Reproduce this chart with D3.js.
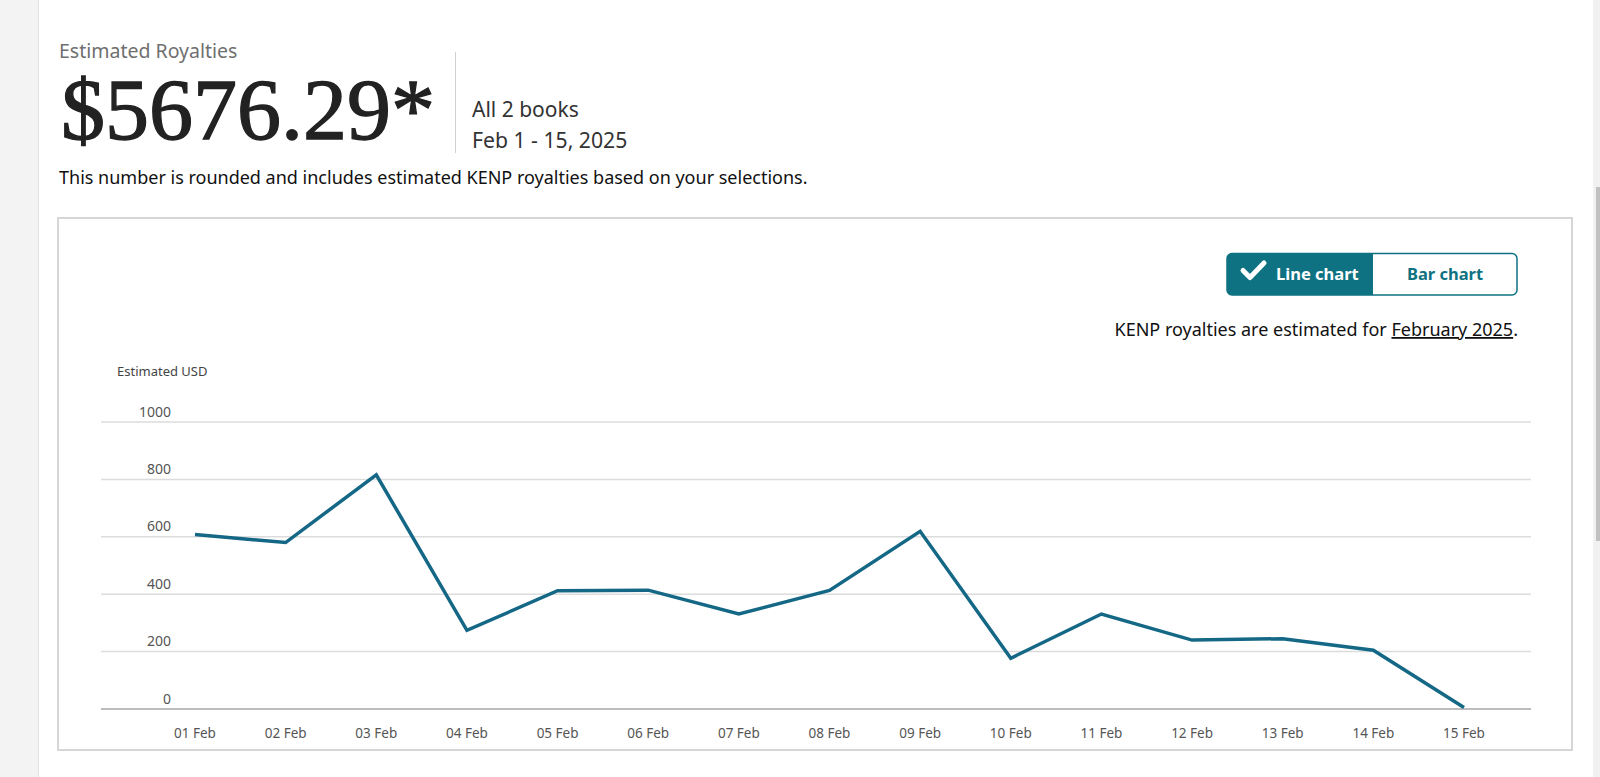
<!DOCTYPE html>
<html>
<head>
<meta charset="utf-8">
<script src="https://cdn.jsdelivr.net/npm/d3@7"></script>
<style>
  html, body { margin: 0; padding: 0; background: #fff; overflow: hidden; }
  svg { display: block; }
  text { font-family: "Noto Sans", "Open Sans", sans-serif; }
</style>
</head>
<body>
<svg id="chart" width="1600" height="777"></svg>
<script>
// ---- data ----
const categories = ["01 Feb","02 Feb","03 Feb","04 Feb","05 Feb","06 Feb","07 Feb","08 Feb","09 Feb","10 Feb","11 Feb","12 Feb","13 Feb","14 Feb","15 Feb"];
const royalties = [608, 580, 816, 274, 412, 414, 331, 413, 619, 177, 331, 240, 245, 205, 5];
const yTicks = [0, 200, 400, 600, 800, 1000];
const totalLabel = "$5676.29*";
const booksLabel = "All 2 books";
const rangeLabel = "Feb 1 - 15, 2025";

const svg = d3.select("#chart");

// page chrome
svg.append("rect").attr("x", 0).attr("y", 0).attr("width", 1600).attr("height", 777).attr("fill", "#fff");
svg.append("rect").attr("x", 0).attr("y", 0).attr("width", 38).attr("height", 777).attr("fill", "#f3f3f3");
svg.append("line").attr("x1", 38.5).attr("x2", 38.5).attr("y1", 0).attr("y2", 777).attr("stroke", "#e2e2e2");
svg.append("rect").attr("x", 1593).attr("y", 0).attr("width", 7).attr("height", 777).attr("fill", "#f1f1f1");
svg.append("rect").attr("x", 1596).attr("y", 187).attr("width", 4).attr("height", 354).attr("fill", "#c1c1c1");

// header
svg.append("text").attr("x", 59).attr("y", 58).attr("font-size", 19.5).attr("fill", "#6f6f6f").text("Estimated Royalties");
svg.append("text").attr("x", 61).attr("y", 139)
  .style("font-family", "'Liberation Serif', 'DejaVu Serif', serif")
  .attr("font-size", 87).attr("fill", "#222")
  .attr("stroke", "#222").attr("stroke-width", 1.3)
  .attr("textLength", 374).attr("lengthAdjust", "spacingAndGlyphs")
  .text(totalLabel);
svg.append("line").attr("x1", 455.5).attr("x2", 455.5).attr("y1", 52).attr("y2", 153).attr("stroke", "#d0d0d0");
svg.append("text").attr("x", 472).attr("y", 117).attr("font-size", 21).attr("fill", "#333").text(booksLabel);
svg.append("text").attr("x", 472).attr("y", 148).attr("font-size", 21.2).attr("fill", "#333").text(rangeLabel);
svg.append("text").attr("x", 59).attr("y", 184).attr("font-size", 18).attr("fill", "#111")
  .text("This number is rounded and includes estimated KENP royalties based on your selections.");

// chart box
svg.append("rect").attr("x", 58).attr("y", 218).attr("width", 1514).attr("height", 532)
  .attr("fill", "#fff").attr("stroke", "#d6d6d6").attr("stroke-width", 2);

// toggle
const teal = "#0e7282";
svg.append("rect").attr("x", 1227).attr("y", 253.5).attr("width", 290).attr("height", 41.5).attr("rx", 5)
  .attr("fill", "#fff").attr("stroke", teal).attr("stroke-width", 1.5);
svg.append("path")
  .attr("d", "M1373,253.5 H1232 a5,5 0 0 0 -5,5 V290 a5,5 0 0 0 5,5 H1373 Z")
  .attr("fill", teal);
svg.append("path")
  .attr("d", "M1243,270.5 L1250,277.5 L1264,263")
  .attr("fill", "none").attr("stroke", "#fff").attr("stroke-width", 5)
  .attr("stroke-linecap", "round").attr("stroke-linejoin", "round");
svg.append("text").attr("x", 1276).attr("y", 280).attr("font-size", 16.5).attr("font-weight", 700)
  .attr("fill", "#fff").text("Line chart");
svg.append("text").attr("x", 1445).attr("y", 280).attr("font-size", 16.5).attr("font-weight", 700)
  .attr("fill", teal).attr("text-anchor", "middle").text("Bar chart");

const note = svg.append("text").attr("x", 1518).attr("y", 336).attr("font-size", 18).attr("fill", "#111")
  .attr("text-anchor", "end");
note.append("tspan").text("KENP royalties are estimated for ");
note.append("tspan").attr("text-decoration", "underline").text("February 2025");
note.append("tspan").text(".");

// scales
const x = d3.scalePoint().domain(categories).range([195, 1464]);
const y = d3.scaleLinear().domain([0, 1000]).range([709, 422]);
const gridLeft = 101, gridRight = 1531;

svg.append("text").attr("x", 117).attr("y", 376).attr("font-size", 13).attr("fill", "#444").text("Estimated USD");

// gridlines + y labels
const yAxis = svg.append("g");
yAxis.selectAll("line").data(yTicks).join("line")
  .attr("x1", gridLeft).attr("x2", gridRight)
  .attr("y1", d => y(d)).attr("y2", d => y(d))
  .attr("stroke", d => d === 0 ? "#bdbdbd" : "#dcdcdc")
  .attr("stroke-width", d => d === 0 ? 2 : 1.5);
yAxis.selectAll("text").data(yTicks).join("text")
  .attr("x", 171).attr("y", d => y(d) - 5.5)
  .attr("text-anchor", "end").attr("font-size", 14).attr("fill", "#555")
  .text(d => d);

// x labels
svg.append("g").selectAll("text").data(categories).join("text")
  .attr("x", d => x(d)).attr("y", 738)
  .attr("text-anchor", "middle").attr("font-size", 13.5).attr("fill", "#555")
  .text(d => d);

// line
const line = d3.line().x((d, i) => x(categories[i])).y(d => y(d));
svg.append("path").datum(royalties)
  .attr("d", line)
  .attr("fill", "none").attr("stroke", "#146886").attr("stroke-width", 3.5)
  .attr("stroke-linejoin", "miter").attr("stroke-linecap", "butt");
</script>
</body>
</html>
